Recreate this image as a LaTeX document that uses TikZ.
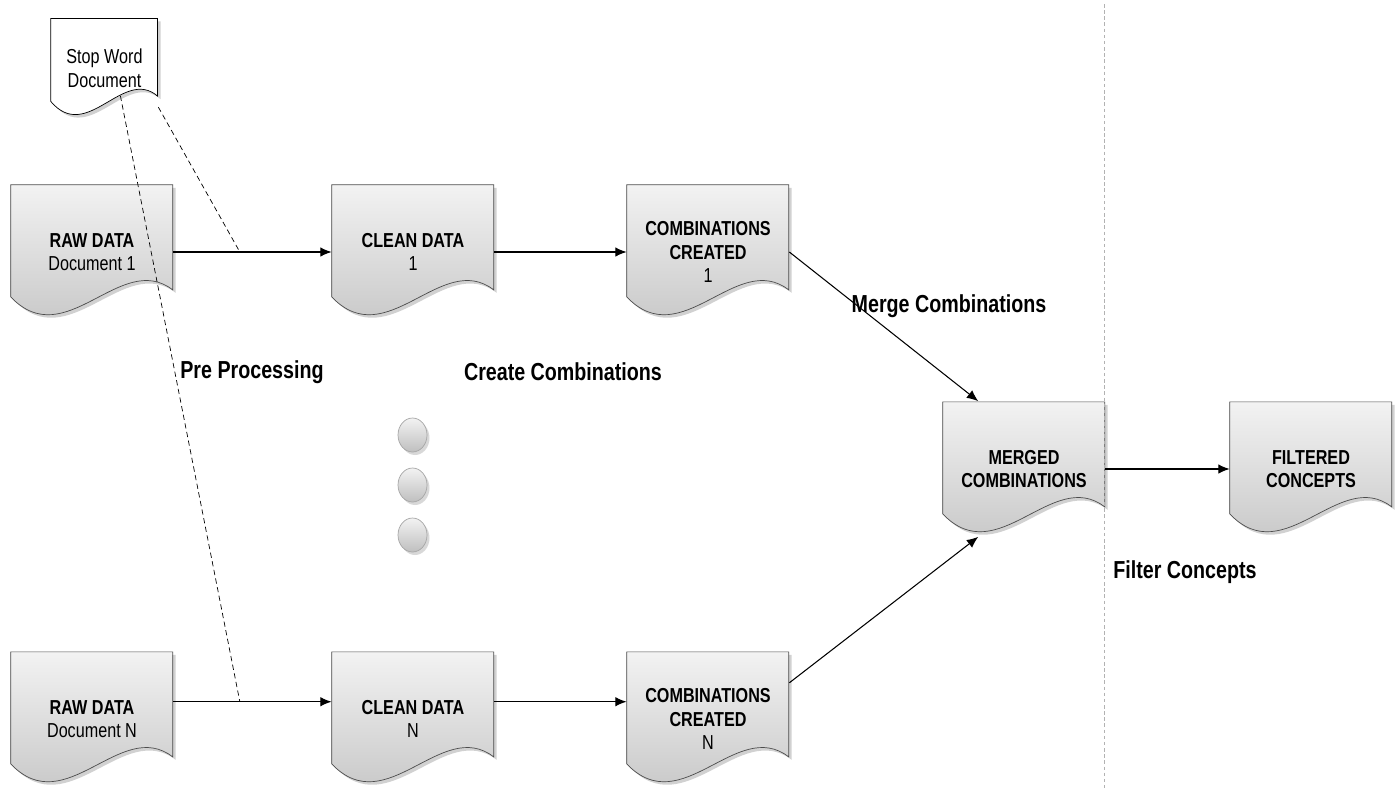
\documentclass[tikz,border=0pt]{standalone}
\usepackage{fontspec}
\setmainfont{Liberation Sans}[FakeStretch=0.8]
\usepackage{tikz}
\usetikzlibrary{calc,backgrounds,arrows.meta}
\tikzset{%
    docfill/.style={draw=gray!60!black, top color=gray!10, bottom color=gray!50},
    stopfill/.style={draw=black, fill=white}
}
% document outline below a node: node, xscale, yscale, style
\newcommand\docshape[4]{%
    \fill[black!30, opacity=.6, shift={(#1.south west)}, shift={(3,3)}, xscale=#2, yscale=#3]
        (0,-23) -- (0,-135) -- (162,-135) -- (162,-30) .. controls (110,-70) and (55,35) .. cycle;
    \draw[#4, shift={(#1.south west)}, xscale=#2, yscale=#3]
        (0,-23) -- (0,-135) -- (162,-135) -- (162,-30) .. controls (110,-70) and (55,35) .. cycle;
}

\begin{document}
\begin{tikzpicture}[x=0.02cm, y=-0.02cm,
    doc/.style={minimum width=3.24cm, minimum height=2.7cm, inner sep=0pt, align=center,
        font=\fontsize{11.5}{13.5}\selectfont},
    flow/.style={-{Latex[length=6.5pt,width=5.5pt]}, thick},
    link/.style={thin, dash pattern=on 3pt off 2pt},
    phase/.style={font=\fontsize{14}{16}\selectfont\bfseries}]
    \useasboundingbox (0,0) rectangle (1398,789);
    \node[doc, minimum width=2.14cm, minimum height=2cm] (stop) at (104.5,68) {Stop Word\\Document};
    \node[doc] (raw1) at (92,252) {\textbf{RAW DATA}\\Document 1};
    \node[doc] (clean1) at (413,252) {\textbf{CLEAN DATA}\\1};
    \node[doc] (comb1) at (708,252) {\textbf{COMBINATIONS}\\\textbf{CREATED}\\1};
    \node[doc] (rawN) at (92,719) {\textbf{RAW DATA}\\Document N};
    \node[doc] (cleanN) at (413,719) {\textbf{CLEAN DATA}\\N};
    \node[doc] (combN) at (708,719) {\textbf{COMBINATIONS}\\\textbf{CREATED}\\N};
    \node[doc] (merged) at (1024,469) {\textbf{MERGED}\\\textbf{COMBINATIONS}};
    \node[doc] (filtered) at (1311,469) {\textbf{FILTERED}\\\textbf{CONCEPTS}};
	\node[phase] (pre) at (252,372) {Pre Processing};
	\node[phase] (create) at (563,372) {Create Combinations};
	\node[phase] (merge) at (949,306) {Merge Combinations};
	\node[phase] (filter) at (1185,572) {Filter Concepts};
    \begin{pgfonlayer}{background}
        \foreach \n in {raw1,clean1,comb1,rawN,cleanN,combN,merged,filtered}
            {\docshape{\n}{1}{1}{docfill}}
        \docshape{stop}{0.66}{0.74}{stopfill}
        \foreach \y in {435,485,535} {
            \fill[black!30, opacity=.5] (415,\y+3) ellipse (14.5 and 17);
            \shade[draw=gray!70, top color=gray!10, bottom color=gray!50] (412.5,\y) ellipse (14.5 and 17);
        }
    \end{pgfonlayer}
    \coordinate (tap1) at ($(raw1.east)!0.42!(clean1.west)$);
    \coordinate (tapN) at ($(rawN.12)!0.42!(cleanN.168)$);
    \draw[link] (stop.-36) -- (tap1);
    \draw[link, shorten <=-0.46cm] (stop.-68) -- (tapN);
    \draw[flow] (raw1.east) -- (clean1.west);
    \draw[flow] (clean1.east) -- (comb1.west);
    \draw[flow, semithick] (comb1.east) -- (merged.124);
    \draw[flow] (rawN.12) -- (cleanN.168);
    \draw[flow] (cleanN.12) -- (combN.168);
    \draw[flow, semithick] (combN.24) -- (merged.236);
    \draw[flow] (merged.east) -- (filtered.west);
    \draw[gray!60, dash pattern=on 2pt off 1.5pt] (1104,4) -- (1104,789);
\end{tikzpicture}
\end{document}
